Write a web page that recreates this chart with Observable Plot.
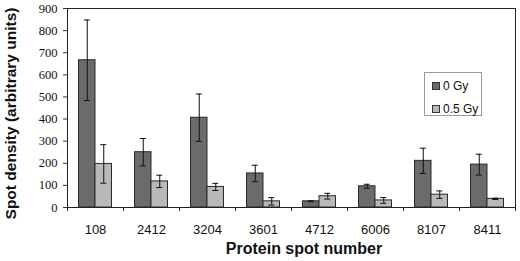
<!DOCTYPE html>
<html>
<head>
<meta charset="utf-8">
<script src="https://cdn.jsdelivr.net/npm/d3@7"></script>
<script src="https://cdn.jsdelivr.net/npm/@observablehq/plot@0.6"></script>
<style>
  html, body { margin: 0; padding: 0; background: #fff; }
  #wrap { position: relative; width: 520px; height: 261px; }
  #legend { position: absolute; left: 424px; top: 72px; width: 58px; height: 44px; border: 1px solid #9a9a9a; background: #fff;
            font-family: "Liberation Sans", Arial, sans-serif; font-size: 12px; color: #111; box-sizing: border-box; }
  #legend .item { position: absolute; left: 7px; display: flex; align-items: center; line-height: 14px; }
  #legend .sw { width: 6px; height: 6px; border: 1px solid #333; margin-right: 3px; }
</style>
</head>
<body>
<div id="wrap"></div>
<script>
const spots = ["108", "2412", "3204", "3601", "4712", "6006", "8107", "8411"];
const gy0 = [666, 250, 406, 154, 28, 96, 211, 194];
const gy0Err = [182, 62, 107, 37, 2, 9, 57, 47];
const gy05 = [197, 118, 93, 28, 51, 32, 58, 39];
const gy05Err = [87, 28, 16, 17, 13, 13, 17, 3];
const doses = ["0 Gy", "0.5 Gy"];
const yTicks = [0, 100, 200, 300, 400, 500, 600, 700, 800, 900];
const xTitle = "Protein spot number";
const yTitle = "Spot density (arbitrary units)";

const colors = {"0 Gy": "#6b6b6b", "0.5 Gy": "#b9b9b9"};

const W = 520, H = 261, ML = 67, MR = 5, MT = 8, MB = 54;
const innerW = W - ML - MR;

const rows0 = spots.map((s, i) => ({spot: s, dose: doses[0], value: gy0[i], err: gy0Err[i]}));
const rows05 = spots.map((s, i) => ({spot: s, dose: doses[1], value: gy05[i], err: gy05Err[i]}));

const chart = Plot.plot({
  width: W,
  height: H,
  marginLeft: ML,
  marginRight: MR,
  marginTop: MT,
  marginBottom: MB,
  style: {fontFamily: "'Liberation Sans', Arial, sans-serif", fontSize: "13px", color: "#111", background: "#fff"},
  x: {domain: spots, padding: 0, tickSize: 0, tickPadding: 17, label: null},
  y: {domain: [0, 900], axis: null},
  marks: [
    Plot.barY(rows0, {x: "spot", y: "value", fill: colors["0 Gy"], stroke: "#2a2a2a", strokeWidth: 1, insetLeft: 11.5, insetRight: 28}),
    Plot.barY(rows05, {x: "spot", y: "value", fill: colors["0.5 Gy"], stroke: "#2a2a2a", strokeWidth: 1, insetLeft: 28, insetRight: 11.5}),
    Plot.ruleX(rows0, {x: "spot", y1: d => d.value - d.err, y2: d => d.value + d.err, dx: -8.25, stroke: "#111"}),
    Plot.ruleX(rows05, {x: "spot", y1: d => d.value - d.err, y2: d => d.value + d.err, dx: 8.25, stroke: "#111"}),
    Plot.tickY(rows0, {x: "spot", y: d => d.value + d.err, insetLeft: 16.75, insetRight: 33.25, stroke: "#111"}),
    Plot.tickY(rows0, {x: "spot", y: d => d.value - d.err, insetLeft: 16.75, insetRight: 33.25, stroke: "#111"}),
    Plot.tickY(rows05, {x: "spot", y: d => d.value + d.err, insetLeft: 33.25, insetRight: 16.75, stroke: "#111"}),
    Plot.tickY(rows05, {x: "spot", y: d => d.value - d.err, insetLeft: 33.25, insetRight: 16.75, stroke: "#111"}),
    // x tick marks at category boundaries
    Plot.ruleX(spots, {x: d => d, dx: -28, y1: 0, y2: -18, stroke: "#333"}),
    Plot.ruleX(spots.slice(-1), {x: d => d, dx: 28, y1: 0, y2: -18, stroke: "#333"}),
    // y axis ticks and serif labels
    Plot.ruleY(yTicks, {y: d => d, insetLeft: -4, insetRight: innerW, stroke: "#333"}),
    Plot.text(yTicks, {y: d => d, text: d => String(d), frameAnchor: "left", textAnchor: "end", dx: -10, fontFamily: "'Liberation Serif', 'Times New Roman', serif", fontSize: 12.5, fill: "#111"}),
    Plot.frame({stroke: "#222"}),
    Plot.text([yTitle], {text: d => d, frameAnchor: "left", textAnchor: "middle", lineAnchor: "middle", rotate: -90, dx: -56, dy: 5.5, fontWeight: "bold", fontSize: 15.5, fill: "#111"}),
    Plot.text([xTitle], {text: d => d, frameAnchor: "bottom", textAnchor: "middle", lineAnchor: "middle", dx: 12.5, dy: 41, fontWeight: "bold", fontSize: 16, fill: "#111"})
  ]
});

const wrap = document.getElementById("wrap");
wrap.appendChild(chart);

const legend = document.createElement("div");
legend.id = "legend";
doses.forEach((d, i) => {
  const item = document.createElement("div");
  item.className = "item";
  item.style.top = (i === 0 ? 6 : 29) + "px";
  const sw = document.createElement("span");
  sw.className = "sw";
  sw.style.background = colors[d];
  const t = document.createElement("span");
  t.textContent = d;
  item.appendChild(sw);
  item.appendChild(t);
  legend.appendChild(item);
});
wrap.appendChild(legend);
</script>
</body>
</html>
